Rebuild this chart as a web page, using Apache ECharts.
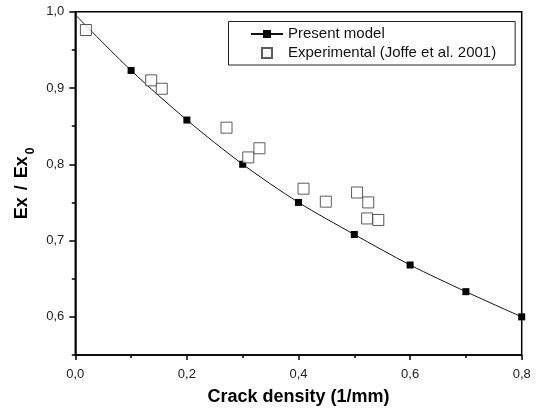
<!DOCTYPE html>
<html lang="en">
<head>
    <meta charset="UTF-8">
    <title>Ex / Ex0 vs crack density</title>
    <script src="https://cdn.jsdelivr.net/npm/echarts@6/dist/echarts.min.js"></script>
    <style>
        html, body { margin: 0; padding: 0; background: #fff; }
        #chart { width: 537px; height: 412px; }
    </style>
</head>
<body>
<div id="chart"></div>
<script>
    // model curve
    var modelX = [0, 0.1, 0.2, 0.3, 0.4, 0.5, 0.6, 0.7, 0.8];
    var modelY = [0.996, 0.923, 0.858, 0.800, 0.750, 0.708, 0.668, 0.633, 0.600];
    // experimental points (Joffe et al. 2001)
    var expX = [0.019, 0.136, 0.155, 0.271, 0.310, 0.330, 0.409, 0.449, 0.505, 0.525, 0.523, 0.543];
    var expY = [0.976, 0.910, 0.899, 0.848, 0.809, 0.821, 0.768, 0.751, 0.763, 0.750, 0.729, 0.727];
    var xTicks = [0, 0.2, 0.4, 0.6, 0.8];
    var yTicks = [0.6, 0.7, 0.8, 0.9, 1.0];

    var font = 'Arial, "Liberation Sans", sans-serif';
    var chartH = 412, gTop = 11.7, gBottom = 57, gLeft = 75.3, gRight = 15.3;
    var yMin = 0.55, yMax = 1.0;
    // second grid only carries the labelled major ticks (0.6 .. 1.0)
    var plotH = chartH - gTop - gBottom;
    var gBottom2 = gBottom + (yTicks[0] - yMin) / (yMax - yMin) * plotH;

    function comma(v) { return v.toFixed(1).replace('.', ','); }

    var modelData = modelX.map(function (x, i) {
        var d = { value: [x, modelY[i]] };
        if (i === 0) d.symbol = 'none';
        return d;
    });
    var expData = expX.map(function (x, i) { return [x, expY[i]]; });

    var titleBold = { fontWeight: 'bold', fontFamily: font, color: '#000' };

    var chart = echarts.init(document.getElementById('chart'));
    chart.setOption({
        animation: false,
        textStyle: { fontFamily: font },
        grid: [
            { left: gLeft, right: gRight, top: gTop, bottom: gBottom, show: true,
              borderColor: '#000', borderWidth: 1.5, backgroundColor: 'transparent' },
            { left: gLeft, right: gRight, top: gTop, bottom: gBottom2, show: false }
        ],
        legend: {
            left: 228.5, top: 21.5,
            orient: 'vertical',
            padding: [5, 19, 4.5, 21.5],
            itemWidth: 32, itemHeight: 10, itemGap: 4,
            borderColor: '#222', borderWidth: 1,
            textStyle: { fontSize: 15, color: '#111', fontFamily: font },
            data: [
                { name: 'Present model' },
                { name: 'Experimental (Joffe et al. 2001)', icon: 'path://M0,0H10V10H0Z' }
            ]
        },
        xAxis: [
            {
                gridIndex: 0, type: 'value', min: xTicks[0], max: xTicks[xTicks.length - 1], interval: 0.2,
                name: 'Crack density (1/mm)', nameLocation: 'middle', nameGap: 33.5,
                nameTextStyle: echarts.util.extend({ fontSize: 18 }, titleBold),
                axisLine: { lineStyle: { color: '#000', width: 1.5 } },
                axisTick: { show: true, length: 5, lineStyle: { color: '#000', width: 1.5 } },
                minorTick: { show: true, splitNumber: 2, length: 3, lineStyle: { color: '#000', width: 1.5 } },
                axisLabel: { fontSize: 13, color: '#222', margin: 13, formatter: comma },
                splitLine: { show: false }
            },
            { gridIndex: 1, type: 'value', min: 0, max: 0.8, show: false }
        ],
        yAxis: [
            {
                gridIndex: 0, type: 'value', min: yMin, max: yMax, interval: 0.05,
                name: '{a|Ex}{s|/}{a|Ex}{b|0}', nameLocation: 'middle', nameGap: 44,
                nameTextStyle: {
                    color: '#000', fontFamily: font,
                    rich: {
                        a: echarts.util.extend({ fontSize: 18 }, titleBold),
                        s: echarts.util.extend({ fontSize: 18, padding: [0, 7, 0, 7] }, titleBold),
                        b: echarts.util.extend({ fontSize: 12, verticalAlign: 'bottom',
                                                 padding: [0, 0, -5, 2] }, titleBold)
                    }
                },
                axisLine: { show: true, lineStyle: { color: '#000', width: 1.5 } },
                axisTick: { show: true, length: 3.5, lineStyle: { color: '#000', width: 1.5 } },
                axisLabel: { show: false },
                splitLine: { show: false }
            },
            {
                gridIndex: 1, type: 'value', min: yTicks[0], max: yTicks[yTicks.length - 1], interval: 0.1,
                axisLine: { show: false },
                axisTick: { show: true, length: 6, lineStyle: { color: '#000', width: 1.5 } },
                axisLabel: { fontSize: 13, color: '#222', margin: 11, formatter: comma },
                splitLine: { show: false }
            }
        ],
        series: [
            {
                name: 'Present model', type: 'line', xAxisIndex: 0, yAxisIndex: 0,
                data: modelData, smooth: 0.3,
                symbol: 'rect', symbolSize: 7,
                lineStyle: { color: '#111', width: 1 },
                itemStyle: { color: '#000' }
            },
            {
                name: 'Experimental (Joffe et al. 2001)', type: 'scatter', xAxisIndex: 0, yAxisIndex: 0,
                data: expData,
                symbol: 'rect', symbolSize: 11,
                itemStyle: { color: '#fff', borderColor: '#333', borderWidth: 1 },
                z: 3
            }
        ]
    });
</script>
</body>
</html>
